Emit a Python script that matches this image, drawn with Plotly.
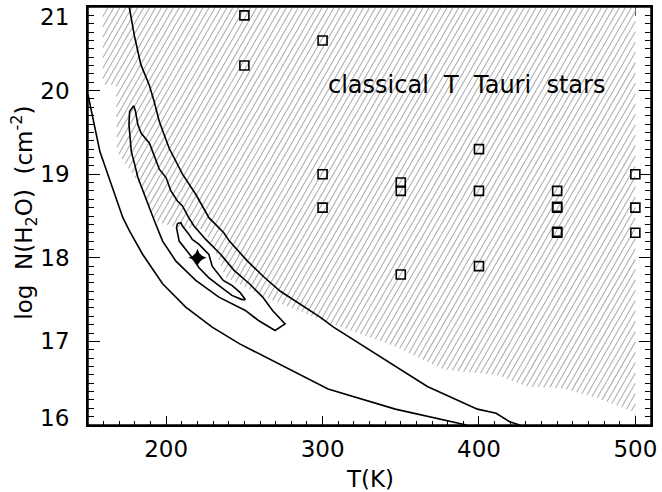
import numpy as np
import plotly.graph_objects as go

# ---------------- data ----------------
# outer (upper) contour
upper_T = [176.4, 179.6, 183.8, 189.1, 192.3, 195.6, 201.9, 210.4, 218.9, 227.3, 236.8, 240.4,
           252.0, 262.5, 273.0, 285.7, 298.4, 307.0, 346.5, 367.0, 399.0, 411.0, 419.6, 426.0]
upper_N = [21.0, 20.66, 20.31, 20.07, 19.87, 19.63, 19.31, 19.0, 18.76, 18.48, 18.3, 18.2,
           17.96, 17.77, 17.6, 17.45, 17.29, 17.17, 16.70, 16.46, 16.19, 16.14, 16.04, 16.0]
# outer (lower) contour
lower_T = [150.0, 157.6, 172.3, 176.6, 185.0, 197.7, 212.5, 229.4, 247.0, 255.5, 303.5, 346.5, 389.6, 392.0]
lower_N = [19.95, 19.27, 18.48, 18.32, 18.04, 17.69, 17.41, 17.17, 16.97, 16.89, 16.43, 16.19, 16.01, 16.0]
# middle closed contour
mid_T = [179.2, 180.4, 181.9, 184.0, 189.3, 192.5, 195.6, 199.9, 203.0, 207.2, 210.4, 214.4, 217.8,
         225.3, 234.9, 243.4, 253.2, 261.7, 268.0, 276.0, 269.6, 259.0, 250.6, 233.7, 218.9, 206.2,
         197.7, 192.5, 189.3, 185.0, 181.9, 179.8, 177.7, 176.2, 176.6, 179.2]
mid_N = [19.82, 19.75, 19.59, 19.49, 19.37, 19.2, 19.06, 18.96, 18.8, 18.68, 18.62, 18.48, 18.38,
         18.22, 18.04, 17.85, 17.69, 17.53, 17.37, 17.21, 17.13, 17.25, 17.37, 17.53, 17.73, 17.96,
         18.2, 18.44, 18.6, 18.8, 18.96, 19.12, 19.27, 19.59, 19.75, 19.82]
# inner closed contour
inner_T = [207.2, 206.6, 208.3, 213.6, 216.7, 221.0, 227.3, 235.7, 242.0, 248.5, 250.6, 247.0,
           242.0, 236.5, 229.4, 227.3, 221.0, 216.7, 214.6, 210.4, 209.4, 207.2]
inner_N = [18.41, 18.36, 18.2, 18.08, 18.0, 17.88, 17.76, 17.64, 17.55, 17.5, 17.5, 17.59,
           17.67, 17.73, 17.9, 18.04, 18.16, 18.22, 18.28, 18.38, 18.42, 18.41]
# region occupied by classical T Tauri stars (hatched)
hatch_T = [159.5, 159.5, 168.0, 168.5, 169.2, 183.0, 192.5, 205.0, 224.0, 231.0, 237.9, 262.9,
           284.0, 300.0, 346.3, 378.0, 411.0, 431.0, 453.0, 474.5, 498.4, 500.0, 500.0]
hatch_N = [21.0, 20.07, 20.07, 19.3, 19.25, 18.88, 18.44, 18.37, 18.34, 18.1, 17.77, 17.53,
           17.37, 17.25, 16.94, 16.66, 16.6, 16.46, 16.44, 16.33, 16.16, 16.1, 21.0]
# individual classical T Tauri stars
ctts_T = [250, 250, 300, 300, 300, 350, 350, 350, 400, 400, 400,
          450, 450, 450, 450, 450, 500, 500, 500]
ctts_N = [20.9, 20.3, 20.6, 19.0, 18.6, 18.9, 18.8, 17.8, 19.3, 18.8, 17.9,
          18.8, 18.6, 18.61, 18.3, 18.31, 19.0, 18.6, 18.3]
# best fit
best_T = [220]
best_N = [18.0]

x_tickvals = [200, 300, 400, 500]
y_tickvals = [16, 17, 18, 19, 20, 21]
y_edge_ticks = [16, 21]

# ---------------- geometry ----------------
W, H = 662, 492
ML, MR, MT, MB = 88, 6, 5, 67
XR = [150, 510]
YR = [16, 21]
pw, ph = W - ML - MR, H - MT - MB
kx = pw / (XR[1] - XR[0])
ky = ph / (YR[1] - YR[0])

FONT = "DejaVu Sans"


def hatch_lines(Tp, Np, angle_deg, step_px):
    X = (np.asarray(Tp, float) - XR[0]) * kx
    Y = (np.asarray(Np, float) - YR[0]) * ky
    cot = 1.0 / np.tan(np.radians(angle_deg))
    f0 = X - Y * cot
    n = len(X)
    xs, ys = [], []
    c = np.floor(f0.min() / step_px) * step_px
    while c <= f0.max():
        f = f0 - c
        hits = []
        for i in range(n):
            j = (i + 1) % n
            if (f[i] > 0) != (f[j] > 0):
                s = f[i] / (f[i] - f[j])
                hits.append(Y[i] + s * (Y[j] - Y[i]))
        hits.sort()
        for a, b in zip(hits[0::2], hits[1::2]):
            for yy in (a, b):
                xx = c + yy * cot
                xs.append(xx / kx + XR[0])
                ys.append(yy / ky + YR[0])
            xs.append(None)
            ys.append(None)
        c += step_px
    return xs, ys


hx, hy = hatch_lines(hatch_T, hatch_N, 60, 6.0)

fig = go.Figure()
fig.add_trace(go.Scatter(x=hatch_T, y=hatch_N, mode="lines", fill="toself",
                         fillcolor="white", line=dict(width=0, color="white"),
                         hoverinfo="skip", showlegend=False))
fig.add_trace(go.Scatter(x=hx, y=hy, mode="lines", line=dict(color="#b0b0b0", width=1.1),
                         hoverinfo="skip", showlegend=False))
for tx, ny in ((upper_T, upper_N), (lower_T, lower_N), (mid_T, mid_N), (inner_T, inner_N)):
    fig.add_trace(go.Scatter(x=tx, y=ny, mode="lines", line=dict(color="black", width=1.6),
                             showlegend=False))
fig.add_trace(go.Scatter(x=ctts_T, y=ctts_N, mode="markers",
                         marker=dict(symbol="square-open", size=9, color="black",
                                     line=dict(width=1.6, color="black")),
                         showlegend=False))
fig.add_trace(go.Scatter(x=best_T, y=best_N, mode="markers",
                         marker=dict(symbol="star-diamond", size=13, color="black",
                                     line=dict(width=0)),
                         showlegend=False))

fig.add_annotation(x=392, y=20.07, xref="x", yref="y",
                   text="classical\u00a0 T\u00a0 Tauri\u00a0 stars", showarrow=False,
                   font=dict(family=FONT, size=24, color="black"))
fig.add_annotation(x=0.5, y=(-(479 - (H - MB))) / ph, xref="paper", yref="paper",
                   text="T(K)", showarrow=False, yanchor="middle",
                   font=dict(family=FONT, size=23, color="black"))
fig.add_annotation(x=-(88 - 23) / pw, y=0.507, xref="paper", yref="paper",
                   text="log\u00a0 N(H<sub>2</sub>O)\u00a0 (cm<sup>-2</sup>)", textangle=-90,
                   showarrow=False, xanchor="center", yanchor="middle",
                   font=dict(family=FONT, size=23, color="black"))
# edge tick labels of the y axis (drawn shifted inside the figure, as in the reference)
for v, shift in zip(y_edge_ticks, (7, -10)):
    fig.add_annotation(x=0, y=v, xref="paper", yref="y", text=str(v), showarrow=False,
                       xanchor="right", yanchor="middle", xshift=-17, yshift=shift,
                       font=dict(family=FONT, size=23, color="black"))

fig.add_shape(type="rect", xref="paper", yref="paper", x0=0, y0=0, x1=1, y1=1,
              line=dict(color="black", width=1.5), layer="above")

fig.update_layout(
    width=W, height=H,
    margin=dict(l=ML, r=MR, t=MT, b=MB, pad=0),
    paper_bgcolor="white", plot_bgcolor="white",
    font=dict(family=FONT, size=23, color="black"),
    showlegend=False,
    xaxis=dict(range=XR, showgrid=False, zeroline=False, showline=True, linecolor="black",
               linewidth=1.5, mirror="ticks", ticks="inside", ticklen=9, tickwidth=1.3,
               tickcolor="black", tickvals=x_tickvals, ticktext=[str(v) for v in x_tickvals],
               ticklabelstandoff=3, ticklabeloverflow="allow", layer="below traces",
               minor=dict(dtick=10, tick0=0, ticks="inside", ticklen=4.5, tickwidth=1.3,
                          tickcolor="black", showgrid=False)),
    yaxis=dict(range=YR, showgrid=False, zeroline=False, showline=True, linecolor="black",
               linewidth=1.5, mirror="ticks", ticks="inside", ticklen=12.5, tickwidth=1.3,
               tickcolor="black", tickvals=y_tickvals,
               ticktext=["" if v in y_edge_ticks else str(v) for v in y_tickvals],
               ticklabelstandoff=12,
               minor=dict(dtick=0.1, tick0=0, ticks="inside", ticklen=6, tickwidth=1.3,
                          tickcolor="black", showgrid=False)),
)

fig.write_html("out.html", config={"displayModeBar": False},
               post_script="document.body.style.margin='0px';")
